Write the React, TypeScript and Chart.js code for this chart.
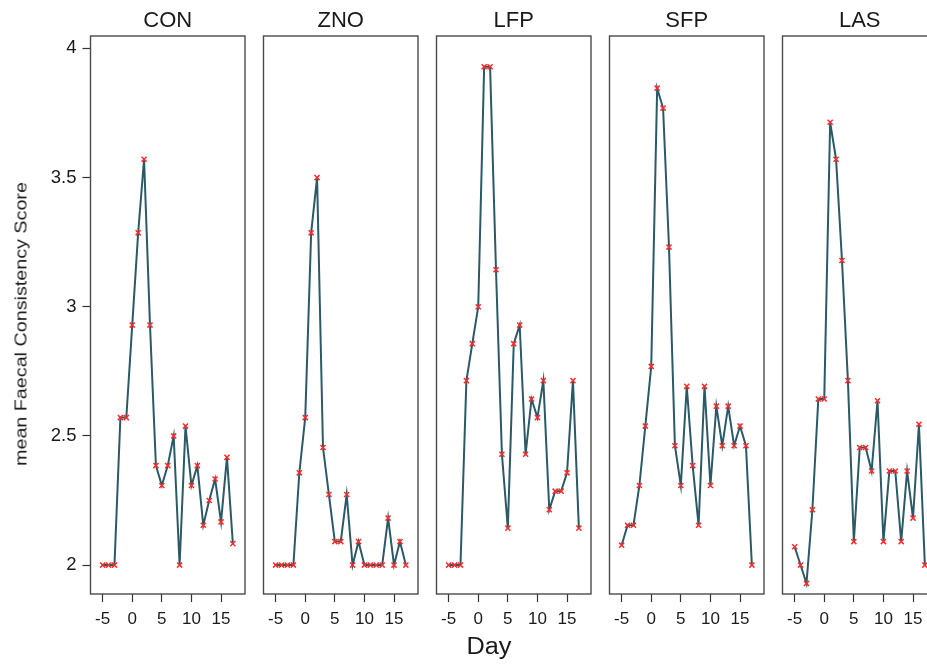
import React, { useEffect, useRef } from 'react';
import { Chart, registerables } from 'chart.js';

Chart.register(...registerables);

// ---------- data ----------
const days = [-5, -4, -3, -2, -1, 0, 1, 2, 3, 4, 5, 6, 7, 8, 9, 10, 11, 12, 13, 14, 15, 16, 17];
const groups = ['CON', 'ZNO', 'LFP', 'SFP', 'LAS'];

const conScores = [2.0, 2.0, 2.0, 2.571, 2.571, 2.929, 3.286, 3.571, 2.929, 2.385, 2.308, 2.385, 2.5, 2.0, 2.538, 2.308, 2.385, 2.154, 2.25, 2.333, 2.167, 2.417, 2.083];
const znoScores = [2.0, 2.0, 2.0, 2.0, 2.357, 2.571, 3.286, 3.5, 2.455, 2.273, 2.091, 2.091, 2.273, 2.0, 2.091, 2.0, 2.0, 2.0, 2.0, 2.182, 2.0, 2.091, 2.0];
const lfpScores = [2.0, 2.0, 2.0, 2.714, 2.857, 3.0, 3.929, 3.929, 3.143, 2.429, 2.143, 2.857, 2.929, 2.429, 2.643, 2.571, 2.714, 2.214, 2.286, 2.286, 2.357, 2.714, 2.143];
const sfpScores = [2.077, 2.154, 2.154, 2.308, 2.538, 2.769, 3.846, 3.769, 3.231, 2.462, 2.308, 2.692, 2.385, 2.154, 2.692, 2.308, 2.615, 2.462, 2.615, 2.462, 2.538, 2.462, 2.0];
const lasScores = [2.071, 2.0, 1.929, 2.214, 2.643, 2.643, 3.714, 3.571, 3.179, 2.714, 2.091, 2.455, 2.455, 2.364, 2.636, 2.091, 2.364, 2.364, 2.091, 2.364, 2.182, 2.545, 2.0];

const seriesByGroup = [conScores, znoScores, lfpScores, sfpScores, lasScores];

const xTickValues = [-5, 0, 5, 10, 15];
const xTickLabels = ['-5', '0', '5', '10', '15'];
const yTickValues = [2, 2.5, 3, 3.5, 4];
const yTickLabels = ['2', '2.5', '3', '3.5', '4'];

const yAxisTitle = 'mean Faecal Consistency Score';
const xAxisTitle = 'Day';

// ---------- layout / style ----------
const FONT = '"Liberation Sans", Arial, Helvetica, sans-serif';
const X_MIN = -7.05;
const X_MAX = 19.05;
const Y_MIN = 1.888;
const Y_MAX = 4.048;
const BOX_LEFTS = [90.5, 263.5, 436.5, 609.5, 782.5];
const BOX_W = 154.5;
const BOX_BOTTOM = 594;
const H = 668;
const SIDE = 6;
const LINE_COLOR = '#2b5966';
const MARK_COLOR = '#ff2b2b';
const FRAME_COLOR = '#4a4a4a';
const TEXT_COLOR = '#1a1a1a';

const framePlugin = {
  id: 'panelFrame',
  beforeDatasetsDraw(chart: any) {
    const { ctx, chartArea } = chart;
    const { left, top, right, bottom } = chartArea;
    ctx.save();
    ctx.strokeStyle = FRAME_COLOR;
    ctx.lineWidth = 1.4;
    ctx.strokeRect(left, top, right - left, bottom - top);
    ctx.restore();
  },
};

function Panel({ index }: { index: number }) {
  const ref = useRef<HTMLCanvasElement | null>(null);
  const boxLeft = BOX_LEFTS[index];
  const first = index === 0;
  const canvasLeft = first ? 0 : Math.floor(boxLeft - SIDE);
  const padLeft = first ? 0 : boxLeft - canvasLeft;
  const yAxisW = first ? boxLeft : 0;
  const width = Math.ceil((first ? yAxisW : padLeft) + BOX_W + SIDE);
  const padRight = width - (first ? yAxisW : padLeft) - BOX_W;

  useEffect(() => {
    const canvas = ref.current;
    if (!canvas) return;
    const scores = seriesByGroup[index];
    const chart = new Chart(canvas, {
      type: 'line',
      data: {
        datasets: [
          {
            label: groups[index],
            data: days.map((d, i) => ({ x: d, y: scores[i] })),
            borderColor: LINE_COLOR,
            borderWidth: 2,
            tension: 0,
            pointStyle: 'crossRot',
            pointRadius: 3.6,
            pointBorderColor: MARK_COLOR,
            pointBackgroundColor: MARK_COLOR,
            pointBorderWidth: 1.5,
            fill: false,
          },
        ],
      },
      options: {
        responsive: false,
        maintainAspectRatio: false,
        animation: false,
        events: [],
        layout: { padding: { left: padLeft, right: padRight, top: 0, bottom: 0 } },
        plugins: {
          legend: { display: false },
          tooltip: { enabled: false },
          title: {
            display: true,
            text: groups[index],
            fullSize: false,
            color: TEXT_COLOR,
            font: { family: FONT, size: 22, weight: 'normal', lineHeight: 1.2 },
            padding: { top: 7.3, bottom: 2.3 },
          },
        },
        scales: {
          x: {
            type: 'linear',
            min: X_MIN,
            max: X_MAX,
            afterBuildTicks: (scale: any) => {
              scale.ticks = xTickValues.map((v) => ({ value: v }));
            },
            afterFit: (scale: any) => {
              scale.height = H - BOX_BOTTOM;
            },
            border: { display: false },
            grid: {
              drawOnChartArea: false,
              drawTicks: true,
              tickLength: 8,
              tickColor: '#333',
              tickWidth: 1.2,
            },
            ticks: {
              color: TEXT_COLOR,
              padding: 7.5,
              maxRotation: 0,
              autoSkip: false,
              font: { family: FONT, size: 17 },
              callback: (v: any) => {
                const i = xTickValues.indexOf(Number(v));
                return i >= 0 ? xTickLabels[i] : '';
              },
            },
          },
          y: {
            type: 'linear',
            display: first,
            min: Y_MIN,
            max: Y_MAX,
            afterBuildTicks: (scale: any) => {
              scale.ticks = yTickValues.map((v) => ({ value: v }));
            },
            afterFit: (scale: any) => {
              scale.width = yAxisW;
            },
            border: { display: false },
            grid: {
              drawOnChartArea: false,
              drawTicks: true,
              tickLength: 8,
              tickColor: '#333',
              tickWidth: 1.2,
            },
            ticks: {
              color: TEXT_COLOR,
              padding: 6,
              autoSkip: false,
              font: { family: FONT, size: 18.5 },
              callback: (v: any) => {
                const i = yTickValues.indexOf(Number(v));
                return i >= 0 ? yTickLabels[i] : '';
              },
            },
          },
        },
      },
      plugins: [framePlugin],
    } as any);
    return () => chart.destroy();
  }, [index]);

  return (
    <canvas
      ref={ref}
      width={width}
      height={H}
      style={{ position: 'absolute', left: canvasLeft, top: 0, width, height: H }}
    />
  );
}

export default function App() {
  return (
    <div
      style={{
        position: 'absolute',
        left: 0,
        top: 0,
        width: 927,
        height: 668,
        overflow: 'hidden',
        background: '#ffffff',
      }}
    >
      {groups.map((g, i) => (
        <Panel key={g} index={i} />
      ))}
      <div
        style={{
          position: 'absolute',
          left: 21,
          top: 323.5,
          transform: 'translate(-50%, -50%) rotate(-90deg) scaleX(1.16)',
          whiteSpace: 'nowrap',
          fontFamily: FONT,
          fontSize: 17,
          lineHeight: 1,
          color: TEXT_COLOR,
        }}
      >
        {yAxisTitle}
      </div>
      <div
        style={{
          position: 'absolute',
          left: 489,
          top: 634.5,
          transform: 'translateX(-50%) scaleX(1.1)',
          whiteSpace: 'nowrap',
          fontFamily: FONT,
          fontSize: 23,
          lineHeight: 1,
          color: TEXT_COLOR,
        }}
      >
        {xAxisTitle}
      </div>
    </div>
  );
}
